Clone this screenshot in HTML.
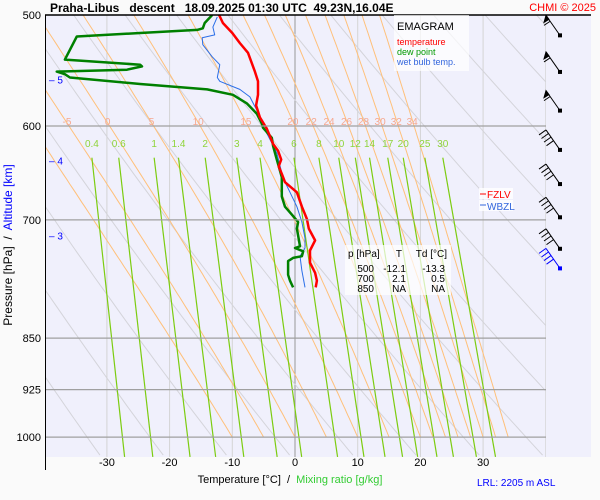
<!DOCTYPE html>
<html><head><meta charset="utf-8"><style>
body{margin:0;background:#fafafa;}
svg{display:block;font-family:"Liberation Sans",sans-serif;}
</style></head><body>
<svg id="chart" width="600" height="500" viewBox="0 0 600 500">
<rect x="0" y="0" width="600" height="500" fill="#fafafa"/>
<rect x="45" y="15" width="546" height="442" fill="#f0f0fc"/>
<defs><clipPath id="clip"><rect x="45" y="15" width="501" height="442"/></clipPath></defs>
<g id="grid" clip-path="url(#clip)"></g>
<g id="series" clip-path="url(#clip)"></g>
<g id="labels"></g>
<line x1="45" y1="15" x2="591" y2="15" stroke="#000" stroke-width="1.5"/>
<line x1="45.5" y1="15" x2="45.5" y2="470" stroke="#000"/>
<text x="50" y="12" font-size="12" font-weight="bold" xml:space="preserve">Praha-Libus   descent   18.09.2025 01:30 UTC  49.23N,16.04E</text>
<text x="596" y="11" font-size="11" fill="#f00" text-anchor="end">CHMI © 2025</text>
<text transform="translate(12,245) rotate(-90)" font-size="12" text-anchor="middle" xml:space="preserve">Pressure [hPa]  /  <tspan fill="#00f">Altitude [km]</tspan></text>
<text x="290" y="483" font-size="11" text-anchor="middle" xml:space="preserve">Temperature [°C]  /  <tspan fill="#3c3">Mixing ratio [g/kg]</tspan></text>
<text x="477" y="486" font-size="10" fill="#00f">LRL: 2205 m ASL</text>
<g>
<rect x="394" y="15" width="75" height="56" fill="#fff" opacity="0.7"/>
<text x="397" y="30" font-size="11">EMAGRAM</text>
<text x="397" y="45" font-size="9" fill="#f00">temperature</text>
<text x="397" y="55" font-size="9" fill="#090">dew point</text>
<text x="397" y="65" font-size="9" fill="#36d">wet bulb temp.</text>
</g>
<g>
<rect x="479" y="188" width="34" height="11" fill="#fff" opacity="0.8"/>
<rect x="479" y="200" width="34" height="11" fill="#fff" opacity="0.8"/>
<line x1="480" y1="194" x2="486" y2="194" stroke="#f00"/><text x="487" y="198" font-size="10" fill="#f00">FZLV</text>
<line x1="480" y1="205" x2="486" y2="205" stroke="#36d"/><text x="487" y="210" font-size="10" fill="#36d">WBZL</text>
</g>
<g font-size="10" text-anchor="end">
<rect x="345" y="245" width="106" height="50" fill="#fff" opacity="0.7"/>
<text x="348" y="257" text-anchor="start">p [hPa]</text><text x="402" y="257">T</text><text x="447" y="257">Td [°C]</text>
<text x="374" y="272">500</text><text x="406" y="272">-12.1</text><text x="445" y="272">-13.3</text>
<text x="374" y="282">700</text><text x="406" y="282">2.1</text><text x="445" y="282">0.5</text>
<text x="374" y="292">850</text><text x="406" y="292">NA</text><text x="445" y="292">NA</text>
</g>
<g id="barbs"></g>
<script>
const pLevels=[500,600,700,850,925,1000];
const tTicks=[-30,-20,-10,0,10,20,30];
const altKm=[5,4,3];
const altP=[556,635,718];
const mixRatios=[0.4,0.6,1,1.4,2,3,4,6,8,10,12,14,17,20,25,30];
const moistTheta=[-10,-5,0,5,10,15,20,22,24,26,28,30,32,34];
const dryTheta=[230,240,250,260,270,280,290,300,310,320,330,340,350,360,370,380,390,400];
const tempP=[500,506.6,515,523.5,532,548.7,557.5,570,580,591.6,602.6,618,625,634,641,649,658,669,685,699,710,724,736,751,763.5,773.5,782];
const tempT=[-12.1,-11.5,-10.0,-8.8,-7.5,-6.4,-5.9,-5.9,-6.2,-5.6,-4.5,-3.5,-2.7,-2.2,-2.6,-2.1,-1.6,0.3,1.1,1.9,2.2,3.2,2.4,2.4,3.2,3.5,3.3];
const dewP=[500,506.6,511,512.4,515,518,538,542.5,544,547,548.7,551,554,560,565,570,578,588,597.5,601.6,611.7,620,634,652.5,673.6,685,695.6,702.4,710,718,731,733,737,743,745,749,766,773.5,782];
const dewT=[-13.2,-14.4,-14.7,-15.6,-24.7,-34.8,-36.7,-24.7,-24.4,-26.8,-38,-36.7,-35.9,-24.7,-14.0,-9.9,-7.7,-6.1,-5.3,-5.1,-3.7,-3.5,-2.9,-2.1,-2.1,-1.6,-0.3,0.5,0.3,0.5,0.8,0,1.3,1.1,-0.3,-1.1,-1.1,-0.8,-0.3];
const wbP=[501.6,510,516.6,519,525,535.5,542.5,554,557.5,565,572,584.6,594.5,609.6,627,653.6,669,685,702.4,721.5,733,743,761,782];
const wbT=[-12.4,-13.1,-12.8,-14.8,-14.7,-13.2,-12.0,-12.4,-12.0,-8.8,-7.2,-6.1,-5.6,-4.3,-2.9,-1.9,-0.8,0.3,1.1,1.6,1.6,0.8,1.1,1.6];
const barbP=[517,549,585,624,660,697,734,758];
const barbKind=[1,1,1,2,2,2,2,3];

const NS='http://www.w3.org/2000/svg';
const X=t=>295+t*6.27;
const Y=p=>15+609*Math.log(p/500);
function mk(tag,attrs,parent){const e=document.createElementNS(NS,tag);for(const k in attrs)e.setAttribute(k,attrs[k]);parent.appendChild(e);return e;}
const grid=document.getElementById('grid'),series=document.getElementById('series'),labels=document.getElementById('labels'),barbs=document.getElementById('barbs');
const PB=1033;
for(let t=-40;t<=40;t+=10){const l=mk('line',{x1:X(t),y1:15,x2:X(t),y2:457,stroke:t===0?'#999':'#d4d4d4','stroke-width':1},grid);

}
dryTheta.forEach(th=>{let pts=[];for(let p=480;p<=PB+5;p+=10){pts.push(X(th*Math.pow(p/1000,0.286)-273.15).toFixed(1)+','+Y(p).toFixed(1));}
const l=mk('polyline',{points:pts.join(' '),fill:'none',stroke:'#d4d4da','stroke-width':1},grid);

});
function es(T){return 6.112*Math.exp(17.67*T/(T+243.5));}
function moist(tw){let T=tw+273.15,p=1000,pts=[[tw,p]];const dp=-5;
while(p>500){const rs=0.622*es(T-273.15)/(p-es(T-273.15));const L=2.5e6,Rd=287,cp=1005;
const dT=(1/p)*(Rd*T+L*rs)/(cp+L*L*rs*0.622/(Rd*T*T))*dp;T+=dT;p+=dp;pts.push([T-273.15,p]);}
return pts;}
moistTheta.forEach(tw=>{const pts=moist(tw);
const l=mk('polyline',{points:pts.map(a=>X(a[0]).toFixed(1)+','+Y(a[1]).toFixed(1)).join(' '),fill:'none',stroke:'#ffc07a','stroke-width':1},grid);


const at=pts.find(a=>a[1]<=600);const x=X(at[0]);
if(x>50){const tx=mk('text',{x:x-2,y:125,'font-size':10,fill:'#f6a890','text-anchor':'middle'},labels);tx.textContent=tw;

}});
function tmr(w,p){const e=w*p/(622+w);const a=Math.log(e/6.112);return 243.5*a/(17.67-a);}
mixRatios.forEach(w=>{const l=mk('line',{x1:X(tmr(w,632)),y1:Y(632),x2:X(tmr(w,PB)),y2:Y(PB),stroke:'#7ccc10','stroke-width':1.2},grid);


const tx=mk('text',{x:X(tmr(w,632)),y:147,'font-size':10,fill:'#8fd43a','text-anchor':'middle'},labels);tx.textContent=w;

});
pLevels.forEach(p=>{if(p>500){const l=mk('line',{x1:45,y1:Y(p),x2:546,y2:Y(p),stroke:'#a0a0a0','stroke-width':1.2},labels);

}
const tx=mk('text',{x:41,y:Y(p)+4,'font-size':11,'text-anchor':'end'},labels);tx.textContent=p;

});
altKm.forEach((a,i)=>{const tx=mk('text',{x:49,y:Y(altP[i])+4,'font-size':10,fill:'#00f'},labels);tx.textContent='– '+a;

});
tTicks.forEach(t=>{const tx=mk('text',{x:X(t),y:466,'font-size':11,'text-anchor':'middle'},labels);tx.textContent=t;

});
function line(P,T,color,w,name){const l=mk('polyline',{points:P.map((p,i)=>X(T[i]).toFixed(1)+','+Y(p).toFixed(1)).join(' '),fill:'none',stroke:color,'stroke-width':w,'stroke-linejoin':'round'},series);

}
line(wbP,wbT,'#2a6ee8',1,'wet-bulb-line');
line(dewP,dewT,'#008000',2.5,'dew-point-line');
line(tempP,tempT,'#f00',2.5,'temperature-line');
barbP.forEach((p,i)=>{const y=Y(p),x=560;const col=barbKind[i]===3?'#00f':'#000';
const g=mk('g',{stroke:col,fill:col,'stroke-width':1},barbs);


mk('line',{x1:x,y1:y,x2:x-14,y2:y-20},g);mk('rect',{x:x-1.5,y:y-1.5,width:3,height:3},g);
if(barbKind[i]===1){mk('polygon',{points:`${x-14},${y-20} ${x-11},${y-16} ${x-16},${y-13}`},g);mk('line',{x1:x-10,y1:y-14,x2:x-16,y2:y-10},g);}
else{for(let k=0;k<4;k++){const sx=x-14+k*2.5,sy=y-20+k*3.6;mk('line',{x1:sx,y1:sy,x2:sx-7,y2:sy+5},g);}}});
</script>
</svg>
</body></html>
